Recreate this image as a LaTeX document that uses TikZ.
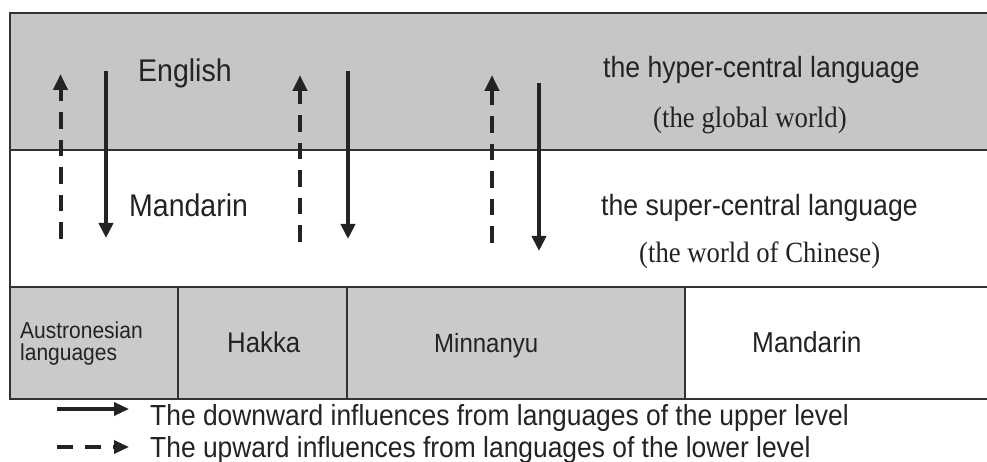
\documentclass[tikz,border=0pt]{standalone}
\usepackage{fontspec}
\setmainfont{Liberation Serif}
\setsansfont{Liberation Sans}
\usetikzlibrary{arrows.meta}
\definecolor{bandgray}{RGB}{198,198,198}
\definecolor{cellgray}{RGB}{202,202,202}
\definecolor{inkc}{RGB}{35,35,35}
\definecolor{framec}{RGB}{50,50,50}
\newcommand{\fsz}[1]{\fontsize{#1}{#1}\selectfont}
\newcommand{\tallt}[1]{\scalebox{1}[1.1]{#1}}
\begin{document}
\begin{tikzpicture}[x=1pt,y=-1pt,
  lbl/.style={anchor=base west, inner sep=0pt, text=inkc},
  sanslbl/.style={lbl, font=\sffamily},
  seriflbl/.style={lbl, font=\rmfamily},
  hframe/.style={draw=framec, line width=2.6pt},
  vframe/.style={draw=framec, line width=1.8pt},
  downarr/.style={draw=inkc, line width=4pt, -{Triangle[width=14pt,length=15pt]}},
  uparr/.style={draw=inkc, line width=4pt, dash pattern=on 16.5pt off 11pt, -{Triangle[width=14pt,length=16pt]}},
  legsolid/.style={draw=inkc, line width=3.3pt, -{Triangle[width=13pt,length=15pt]}},
  legdash/.style={draw=inkc, line width=3.3pt, dash pattern=on 16pt off 12pt, -{Triangle[width=13pt,length=15pt]}}
]
\useasboundingbox (0,0) rectangle (987,462);
\fill[white] (0,0) rectangle (987,462);
% bands
\fill[bandgray] (10,13) rectangle (987,150);
\fill[cellgray] (10,287) rectangle (685,399);
% frame lines
\draw[hframe] (10,13) -- (987,13);
\draw[hframe] (10,150) -- (987,150);
\draw[hframe] (10,287) -- (987,287);
\draw[hframe] (10,399) -- (987,399);
\draw[vframe] (10,12) -- (10,400);
\draw[vframe] (178,287) -- (178,399);
\draw[vframe] (347,287) -- (347,399);
\draw[vframe] (685,287) -- (685,399);
% texts
\node[sanslbl, font=\sffamily\fsz{28.5}] (eng) at (138,82) {\tallt{English}};
\node[sanslbl, font=\sffamily\fsz{28.5}] (man1) at (129,217) {\tallt{Mandarin}};
\node[sanslbl, font=\sffamily\fsz{26.6}] (hyper) at (603,78) {\tallt{the hyper-central language}};
\node[seriflbl, font=\rmfamily\fsz{26.8}] (glob) at (653,128) {\tallt{(the global world)}};
\node[sanslbl, font=\sffamily\fsz{26.6}] (super) at (601,216) {\tallt{the super-central language}};
\node[seriflbl, font=\rmfamily\fsz{26.7}] (chin) at (639,262) {\tallt{(the world of Chinese)}};
\node[sanslbl, font=\sffamily\fsz{21}] (aus1) at (20,338) {\tallt{Austronesian}};
\node[sanslbl, font=\sffamily\fsz{21}] (aus2) at (20,360) {\tallt{languages}};
\node[sanslbl, font=\sffamily\fsz{25.8}] (hak) at (227,352) {\tallt{Hakka}};
\node[sanslbl, font=\sffamily\fsz{24}] (minn) at (434,352) {\tallt{Minnanyu}};
\node[sanslbl, font=\sffamily\fsz{26.2}] (man2) at (752,352) {\tallt{Mandarin}};
\node[sanslbl, font=\sffamily\fsz{26.4}] (leg1) at (150,425) {\tallt{The downward influences from languages of the upper level}};
\node[sanslbl, font=\sffamily\fsz{26.4}] (leg2) at (150,457) {\tallt{The upward influences from languages of the lower level}};
% arrow end coordinates
\coordinate (u1s) at (60.5,239); \coordinate (u1e) at (60.5,74);
\coordinate (d1s) at (106,71);   \coordinate (d1e) at (106,238);
\coordinate (u2s) at (300,242);  \coordinate (u2e) at (300,75);
\coordinate (d2s) at (348,71);   \coordinate (d2e) at (348,239);
\coordinate (u3s) at (492,243);  \coordinate (u3e) at (492,75);
\coordinate (d3s) at (539,83);   \coordinate (d3e) at (539,251);
\coordinate (l1s) at (57,409);   \coordinate (l1e) at (129,409);
\coordinate (l2s) at (57,447);   \coordinate (l2e) at (129,447);
% arrows
\draw[uparr] (u1s) -- (u1e);
\draw[downarr] (d1s) -- (d1e);
\draw[uparr] (u2s) -- (u2e);
\draw[downarr] (d2s) -- (d2e);
\draw[uparr] (u3s) -- (u3e);
\draw[downarr] (d3s) -- (d3e);
\draw[legsolid] (l1s) -- (l1e);
\draw[legdash] (l2s) -- (l2e);
\end{tikzpicture}
\end{document}
